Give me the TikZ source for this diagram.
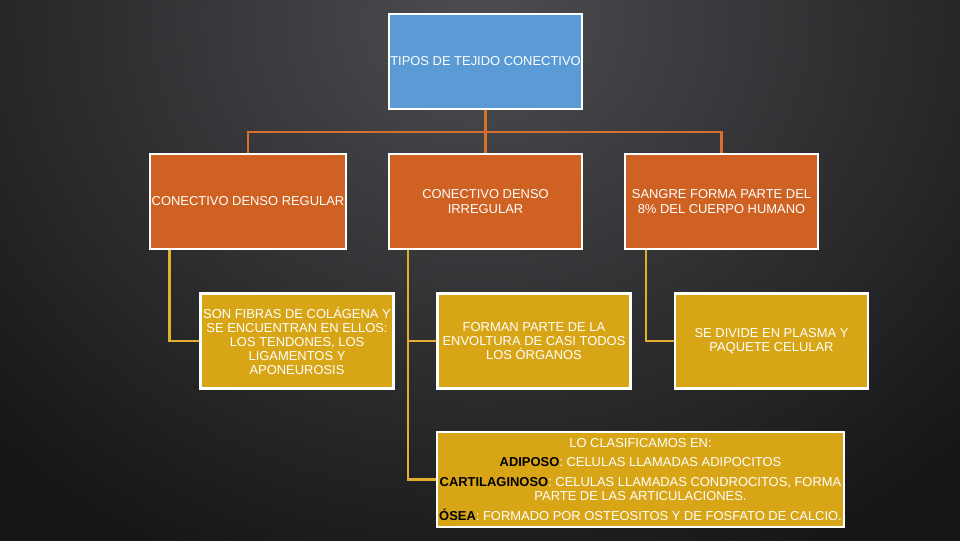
\documentclass[tikz,border=0pt]{standalone}
\usepackage{fontspec}
\setmainfont{Liberation Sans}
\usepackage{xcolor}
\usepackage{tikz}
\usetikzlibrary{positioning}

\definecolor{topblue}{RGB}{91,155,213}
\definecolor{midorange}{RGB}{207,98,34}
\definecolor{leafgold}{RGB}{216,165,22}
\definecolor{linkorange}{RGB}{214,112,44}
\definecolor{linkgold}{RGB}{226,176,46}
\definecolor{bgdark}{RGB}{22,22,24}
\definecolor{bglight}{RGB}{76,77,80}

\begin{document}
\begin{tikzpicture}[x=0.025cm, y=-0.025cm,
    box/.style={rectangle, draw=white, line width=1.6pt, text=white, align=center, inner xsep=1pt,
        font=\fontsize{9.2}{10.1}\selectfont, minimum width=4.82cm, minimum height=2.37cm},
    topbox/.style={box, fill=topblue},
    midbox/.style={box, fill=midorange},
    leafbox/.style={box, fill=leafgold},
    link/.style={line width=2pt, linkorange},
    leaflink/.style={line width=2pt, linkgold}]

    \useasboundingbox (0,0) rectangle (960,540);
    \fill[bgdark] (-10,-10) rectangle (970,550);
    \begin{scope}
        \clip (-10,-10) rectangle (970,550);
        \shade[inner color=bglight, outer color=bgdark] (480,20) ellipse (17cm and 15cm);
    \end{scope}

    \coordinate (bus) at (485.5,132);

    \node[topbox] (tipos) at (485.5,61.5) {TIPOS DE TEJIDO CONECTIVO};
    \node[midbox] (regular) at (248,201.5) {CONECTIVO DENSO REGULAR};
    \node[midbox] (irregular) at (485.5,201.5) {CONECTIVO DENSO\\IRREGULAR};
    \node[midbox] (sangre) at (721.5,201.5) {SANGRE FORMA PARTE DEL\\8\% DEL CUERPO HUMANO};

    \node[leafbox] (colagena) at (297,341) {SON FIBRAS DE COLÁGENA Y\\SE ENCUENTRAN EN ELLOS:\\LOS TENDONES, LOS\\LIGAMENTOS Y\\APONEUROSIS};
    \node[leafbox] (envoltura) at (534,341) {FORMAN PARTE DE LA\\ENVOLTURA DE CASI TODOS\\LOS ÓRGANOS};
    \node[leafbox] (plasma) at (771.5,341) {SE DIVIDE EN PLASMA Y\\PAQUETE CELULAR};
    \node[leafbox, minimum width=10.16cm] (clasifica) at (640.5,479.5) {LO CLASIFICAMOS EN:\\[4pt]
        {\color{black}\textbf{ADIPOSO}}: CELULAS LLAMADAS ADIPOCITOS\\[4pt]
        {\color{black}\textbf{CARTILAGINOSO}}: CELULAS LLAMADAS CONDROCITOS, FORMA\\
        PARTE DE LAS ARTICULACIONES.\\[4pt]
        {\color{black}\textbf{ÓSEA}}: FORMADO POR OSTEOSITOS Y DE FOSFATO DE CALCIO.};

    \draw[link] (tipos) -- (irregular);
    \draw[link] (regular.north) |- (bus);
    \draw[link] (sangre.north) |- (bus);

    \draw[leaflink] ([xshift=0.5cm]regular.south west) |- (colagena.west);
    \draw[leaflink] ([xshift=0.5cm]irregular.south west) |- (envoltura.west);
    \draw[leaflink] ([xshift=0.5cm]irregular.south west) |- (clasifica.west);
    \draw[leaflink] ([xshift=0.55cm]sangre.south west) |- (plasma.west);
\end{tikzpicture}
\end{document}
